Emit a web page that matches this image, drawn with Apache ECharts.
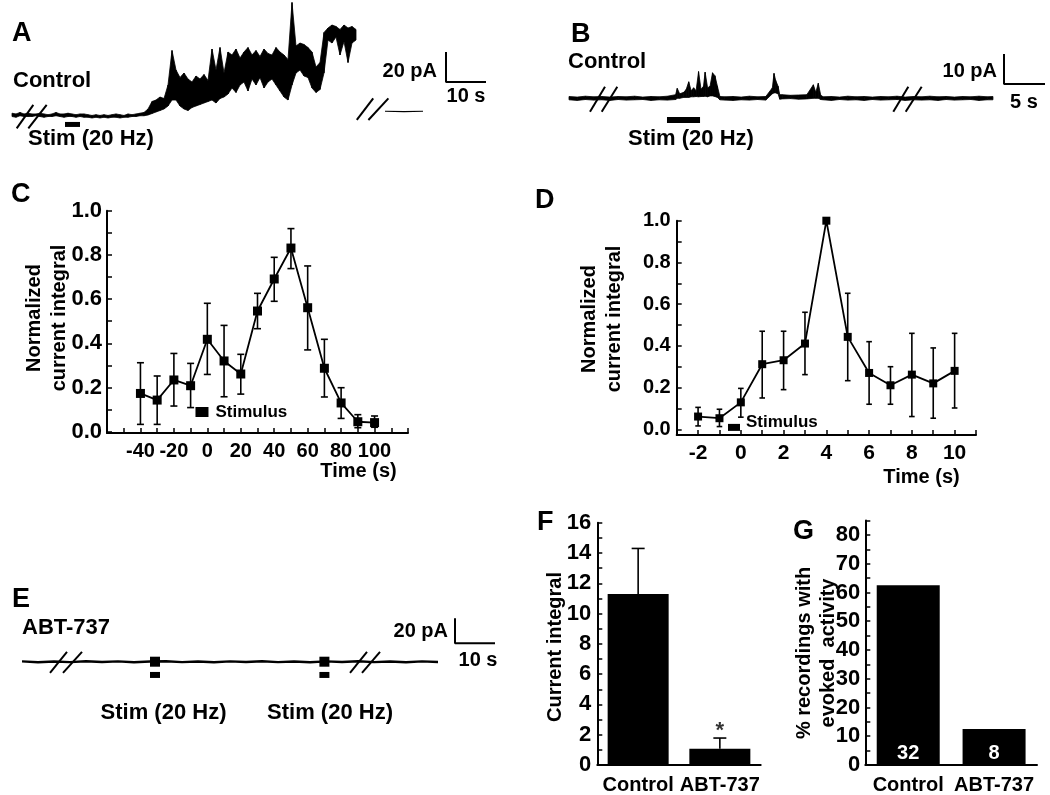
<!DOCTYPE html>
<html>
<head>
<meta charset="utf-8">
<script src="https://cdn.jsdelivr.net/npm/echarts@6/dist/echarts.min.js"></script>
<style>
html, body { margin: 0; padding: 0; background: #fff; }
#main { width: 1050px; height: 795px; }
</style>
</head>
<body>
<div id="main"></div>
<script>
// ---- panel A: control trace (time in s, current in pA), upper/lower envelope of the noise
var aTime = [];
for (var t = 0; t <= 86; t++) aTime.push(t);
var aHigh = [1.2,0.7,1.7,0.7,1.2,0.7,0.7,1.2,0.7,0.2, 0.7,1.7,0.7,0.7,1.2,0.7,0.2,0.7,0.7,0.2, -0.3,0.2,-0.3,0.2,-0.3,0.2,0.7,0.2,-0.3,0.7, 0.2,0.7,1.2,1.7,
  4,9,10,12,11, 20, 43, 30,25,28,24,22,26,24,27,23, 44,30,45,28,42,
  40,44,38,42,45,40,43,39,44,41,40,45,42, 40,37, 75, 46,48,47,45, 42,32,35, 55,
  58,60,59,57,60,58,59,57];
var aLow = [-1,-1.5,-0.5,-1,-1,-1,-0.5,-1,-1.5,-1, -1,-0.5,-1,-1.5,-1,-1,-1.5,-1,-1.5,-1.5, -2,-1.5,-2,-1.5,-2,-1.5,-1.5,-2,-1.5,-1.5, -1,-1,-0.5,-0.5,
  0,1,2,3,4, 6, 10, 10,6,4,3,5,6,7,8,9, 10,8,11,12,14,
  18,15,20,22,16,24,20,25,18,22,24,20,16, 12,10, 20, 28,30,26,25, 18,15,17, 28,
  50,48,52,40,49,35,48,50];
var aAfterTime = [93.25, 98, 102.75];
var aAfterVal = [2.5, 2.2, 2.5];
var aStim = [13.25, 17];

// ---- panel B: control trace
var bTime = [0,1,2,3,4,5,6,7,8,9,10,11,12,
  13,13.2,13.5,14,14.3,14.6,14.9,15.2,15.5,15.8,16.1,16.4,16.6,16.9,17.2,17.5,17.8,18.1,18.4,
  19,20,21,22,23,24, 24.8,25,25.2,25.5,25.7, 26,27,28,29, 29.8,30.1,30.4,30.7,
  31,32,33,34,35,36,37,38,39,40,41,42,43,44,45,46,47,48,49,50,51, 51.7];
var bHigh = [0.6,0.4,0.7,0.5,0.6,0.4,0.6,0.5,0.7,0.4,0.6,0.5,0.7,
  1.2,3.3,1.5,2.0,3.0,5.5,2.5,3.5,2.5,8.9,3.0,4.0,8.7,3.5,4.0,8.5,7.5,4.0,0.6,
  0.5,0.6,0.4,0.7,0.5,0.6, 3.5,8.3,6.0,4.0,1.2, 1.2,1.0,1.1,1.2, 4.5,2.0,5.0,1.0,
  0.5,0.6,0.4,0.7,0.5,0.6,0.4,0.6,0.5,0.7,0.4,0.6,0.5,0.7,0.5,0.6,0.4,0.6,0.5,0.7,0.5, 0.6];
var bLow = [-0.5,-0.7,-0.4,-0.6,-0.5,-0.7,-0.4,-0.6,-0.5,-0.4,-0.7,-0.5,-0.6,
  -0.4,0,0,0.3,0.3,0.3,0.5,0.5,0.6,0.5,0.6,0.6,0.7,0.5,0.8,0.8,0.6,0.3,-0.5,
  -0.6,-0.7,-0.5,-0.6,-0.4,-0.6, 1.5,1.8,1.8,1.5,-0.3, -0.2,-0.1,-0.3,-0.2, 0,0,0,-0.4,
  -0.5,-0.7,-0.4,-0.6,-0.5,-0.7,-0.4,-0.6,-0.5,-0.4,-0.7,-0.5,-0.6,-0.5,-0.7,-0.4,-0.6,-0.5,-0.4,-0.7,-0.5, -0.5];
var bStim = [11.95, 15.98];

// ---- panel C: normalized current integral, 10 s bins
var cTime = [-40,-30,-20,-10,0,10,20,30,40,50,60,70,80,90,100];
var cMean = [0.173,0.143,0.234,0.208,0.418,0.320,0.261,0.546,0.691,0.831,0.561,0.287,0.130,0.045,0.041];
var cLow  = [0.033,0.033,0.116,0.109,0.259,0.158,0.170,0.466,0.590,0.738,0.370,0.157,0.060,0.018,0.020];
var cHigh = [0.312,0.252,0.354,0.309,0.581,0.481,0.350,0.626,0.789,0.919,0.750,0.418,0.199,0.077,0.071];
var cStimulus = [-3.2, 0.089];

// ---- panel D: normalized current integral, 1 s bins
var dTime = [-2,-1,0,1,2,3,4,5,6,7,8,9,10];
var dMean = [0.061,0.053,0.129,0.312,0.331,0.411,1.0,0.443,0.270,0.211,0.262,0.220,0.280];
var dLow  = [0.016,0.013,0.058,0.150,0.190,0.262,1.0,0.233,0.120,0.120,0.061,0.053,0.102];
var dHigh = [0.105,0.096,0.196,0.470,0.470,0.561,1.0,0.652,0.420,0.300,0.460,0.390,0.460];
var dStimulus = [-0.32, 0.009];

// ---- panel E: ABT-737 trace
var eTime = [0,4,8,12,16,20,24,28,32,36,40,44,48,52,56,60,64,68,72,76,80,84,88,92,96,100,104];
var eVal = [0.3,-0.4,0.2,-0.3,0.4,-0.2,0.3,-0.4,0.2,0.4,-0.3,0.2,-0.4,0.3,-0.2,0.4,-0.3,0.2,-0.4,0.3,-0.2,0.4,-0.3,0.2,-0.4,0.3,-0.2];
var eStim = [33.25, 75.6];

// ---- panels F and G
var groups = ['Control', 'ABT-737'];
var fMean = [11.3, 1.07];
var fErr = [14.3, 1.78];
var gPercent = [62.5, 12.5];
var gN = [32, 8];

var FONT = '"Liberation Sans", Arial, Helvetica, sans-serif';

function range(a, b, step) {
    var out = [];
    for (var v = a; v <= b + 1e-9; v += step) out.push(Math.round(v * 1000) / 1000);
    return out;
}
function zip(xs, ys) {
    return xs.map(function (x, i) { return [x, ys[i]]; });
}

// noisy recording drawn as a filled envelope, one quad per sample step
function traceBand(gi, times, low, high) {
    var quads = [];
    for (var i = 0; i < times.length - 1; i++) {
        quads.push([times[i], low[i], high[i], times[i + 1], low[i + 1], high[i + 1]]);
    }
    return {
        type: 'custom', xAxisIndex: gi, yAxisIndex: gi, data: quads, clip: false, z: 2,
        renderItem: function (params, api) {
            var p1 = api.coord([api.value(0), api.value(2)]);
            var p2 = api.coord([api.value(3), api.value(5)]);
            var p3 = api.coord([api.value(3), api.value(4)]);
            var p4 = api.coord([api.value(0), api.value(1)]);
            return { type: 'polygon', shape: { points: [p1, p2, p3, p4] },
                     style: { fill: '#000', stroke: '#000', lineWidth: 0.8 } };
        }
    };
}
function segment(gi, pts, width) {
    return {
        type: 'line', xAxisIndex: gi, yAxisIndex: gi, data: pts, symbol: 'none',
        lineStyle: { color: '#000', width: width || 2, cap: 'butt' }, z: 5
    };
}
// break marks "//" drawn in data units of the trace
function breaks(gi, spans, yLo, yHi) {
    return spans.map(function (s) { return segment(gi, [[s[0], yLo], [s[1], yHi]], 2); });
}

function errorBars(gi, data, halfCap, upOnly) {
    return {
        type: 'custom', xAxisIndex: gi, yAxisIndex: gi, data: data, clip: false, z: 3,
        renderItem: function (params, api) {
            var top = api.coord([api.value(0), api.value(2)]);
            var bot = api.coord([api.value(0), api.value(1)]);
            var st = { stroke: '#000', lineWidth: 1.6 };
            var kids = [
                { type: 'line', shape: { x1: top[0], y1: top[1], x2: bot[0], y2: bot[1] }, style: st },
                { type: 'line', shape: { x1: top[0] - halfCap, y1: top[1], x2: top[0] + halfCap, y2: top[1] }, style: st }
            ];
            if (!upOnly) kids.push({ type: 'line', shape: { x1: bot[0] - halfCap, y1: bot[1], x2: bot[0] + halfCap, y2: bot[1] }, style: st });
            return { type: 'group', children: kids };
        }
    };
}

var axisLine = { show: true, onZero: false, lineStyle: { color: '#000', width: 2 } };
var tickLabel = { color: '#000', fontFamily: FONT, fontWeight: 'bold', fontSize: 22 };
function valueAxis(gi, min, max, ticks, labels, margin, fmt, size) {
    return {
        type: 'value', gridIndex: gi, min: min, max: max,
        axisLine: axisLine,
        axisTick: { show: true, inside: true, length: 5, customValues: ticks, lineStyle: { color: '#000', width: 1.5 } },
        axisLabel: Object.assign({}, tickLabel, { customValues: labels, margin: margin, formatter: fmt, fontSize: size || 22 }),
        splitLine: { show: false }
    };
}
function hiddenAxis(gi, min, max) {
    return { type: 'value', gridIndex: gi, min: min, max: max, show: false, splitLine: { show: false } };
}
function catAxis(gi) {
    return { type: 'category', gridIndex: gi, data: groups, axisLine: axisLine, axisTick: { show: false },
             axisLabel: Object.assign({}, tickLabel, { margin: 10, fontSize: 20, interval: 0 }) };
}
function oneDecimal(v) { return v.toFixed(1); }
function plain(v) { return String(v); }

var grids = [
    { left: 12, top: 2.5, width: 488, height: 150 },        // A
    { left: 569, top: 38.3, width: 479.7, height: 90 },     // B
    { left: 107, top: 210.7, width: 301, height: 222.3 },   // C
    { left: 676.7, top: 220.7, width: 299.3, height: 214.2 }, // D
    { left: 22, top: 611.7, width: 480, height: 75 },       // E
    { left: 597.3, top: 522.7, width: 163.4, height: 243 }, // F
    { left: 865.3, top: 520.6, width: 171.7, height: 244.4 } // G
];

var xAxes = [
    hiddenAxis(0, 0, 122),
    hiddenAxis(1, 0, 58.5),
    valueAxis(2, -60, 120, range(-60, 120, 10), range(-40, 100, 20), 8, plain, 20),
    valueAxis(3, -3, 11, range(-3, 11, 1), range(-2, 10, 2), 8, plain, 21),
    hiddenAxis(4, 0, 120),
    catAxis(5),
    catAxis(6)
];
var yAxes = [
    hiddenAxis(0, -25, 75),
    hiddenAxis(1, -10, 20),
    valueAxis(2, -0.006, 1, range(0, 1, 0.1), range(0, 1, 0.2), 5, oneDecimal),
    valueAxis(3, -0.027, 1, range(0, 1, 0.1), range(0, 1, 0.2), 6, oneDecimal, 20),
    hiddenAxis(4, -20, 40),
    valueAxis(5, 0, 16, range(0, 16, 1), range(0, 16, 2), 6, plain),
    valueAxis(6, 0, 85, range(0, 85, 5), range(0, 80, 10), 5, plain)
];

var solid = { color: '#000', opacity: 1 };
var series = [];
// A
series.push(traceBand(0, aTime, aLow, aHigh));
series.push(segment(0, zip(aAfterTime, aAfterVal), 1.2));
series = series.concat(breaks(0, [[1.17, 5.33], [4.08, 8.67]], -8.9, 6.7));
series = series.concat(breaks(0, [[86.2, 90.3], [89.1, 94.1]], -3.3, 11.1));
series.push(segment(0, [[aStim[0], -6.3], [aStim[1], -6.3]], 5));
series.push(segment(0, [[108.5, 42], [108.5, 22], [118.5, 22]], 2));
// B
series.push(traceBand(1, bTime, bLow, bHigh));
series = series.concat(breaks(1, [[2.56, 4.39], [3.99, 5.89], [39.55, 41.38], [41.06, 43.01]], -4.47, 3.87));
series.push(segment(1, [[bStim[0], -7.2], [bStim[1], -7.2]], 6));
series.push(segment(1, [[53.05, 14.77], [53.05, 4.77], [58.05, 4.77]], 2));
// C
series.push(errorBars(2, cTime.map(function (t, i) { return [t, cLow[i], cHigh[i]]; }), 3.5, false));
series.push({
    type: 'line', xAxisIndex: 2, yAxisIndex: 2, data: zip(cTime, cMean),
    symbol: 'rect', symbolSize: 9, itemStyle: solid, lineStyle: { color: '#000', width: 1.8 }, z: 4
});
series.push({
    type: 'scatter', xAxisIndex: 2, yAxisIndex: 2, data: [cStimulus], symbol: 'rect', symbolSize: [13, 10],
    itemStyle: solid,
    label: { show: true, position: 'right', distance: 7, formatter: 'Stimulus', color: '#000',
             fontFamily: FONT, fontWeight: 'bold', fontSize: 17 }
});
// D
series.push(errorBars(3, dTime.map(function (t, i) { return [t, dLow[i], dHigh[i]]; })
    .filter(function (d) { return d[1] !== d[2]; }), 2.8, false));
series.push({
    type: 'line', xAxisIndex: 3, yAxisIndex: 3, data: zip(dTime, dMean),
    symbol: 'rect', symbolSize: 8, itemStyle: solid, lineStyle: { color: '#000', width: 1.8 }, z: 4
});
series.push({
    type: 'scatter', xAxisIndex: 3, yAxisIndex: 3, data: [dStimulus], symbol: 'rect', symbolSize: [12, 7],
    itemStyle: solid,
    label: { show: true, position: 'right', distance: 6, offset: [0, -5], formatter: 'Stimulus', color: '#000',
             fontFamily: FONT, fontWeight: 'bold', fontSize: 17 }
});
// E
series.push(segment(4, zip(eTime, eVal), 2.4));
series = series.concat(breaks(4, [[7, 11.25], [10.25, 15], [82, 86.25], [85, 89.5]], -9, 7.8));
series.push({
    type: 'scatter', xAxisIndex: 4, yAxisIndex: 4, symbol: 'rect', symbolSize: [10, 10],
    data: eStim.map(function (t) { return [t, 0]; }), itemStyle: solid, z: 6
});
series.push({
    type: 'scatter', xAxisIndex: 4, yAxisIndex: 4, symbol: 'rect', symbolSize: [10, 6],
    data: eStim.map(function (t) { return [t, -10.6]; }), itemStyle: solid
});
series.push(segment(4, [[108.25, 34.7], [108.25, 14.7], [118.25, 14.7]], 2));
// F
series.push({
    type: 'bar', xAxisIndex: 5, yAxisIndex: 5, data: fMean, barWidth: 61, itemStyle: solid
});
series.push(errorBars(5, fMean.map(function (m, i) { return [i, m, fErr[i]]; }), 6.5, true));
series.push({
    type: 'scatter', xAxisIndex: 5, yAxisIndex: 5, data: [[1, fErr[1]]], symbolSize: 0,
    label: { show: true, position: 'top', distance: -4, formatter: '*', color: '#000',
             fontFamily: FONT, fontWeight: 'bold', fontSize: 22 }
});
// G
series.push({
    type: 'bar', xAxisIndex: 6, yAxisIndex: 6, data: gPercent, barWidth: 63, itemStyle: solid,
    label: { show: true, position: 'insideBottom', distance: 2, color: '#fff',
             fontFamily: FONT, fontWeight: 'bold', fontSize: 20,
             formatter: function (p) { return gN[p.dataIndex]; } }
});

function txt(s, x, y, size, opts) {
    opts = opts || {};
    return {
        type: 'text', x: x, y: y, rotation: opts.rot || 0, z: 10,
        style: { text: s, fill: '#000', font: 'bold ' + size + 'px ' + FONT,
                 align: opts.align || 'left', verticalAlign: 'middle', lineHeight: opts.lh || size * 1.2 }
    };
}
var V = Math.PI / 2;
var graphics = [
    txt('A', 12, 33.5, 27), txt('B', 571, 35, 27), txt('C', 11, 195, 27), txt('D', 535, 201, 27),
    txt('E', 12, 600, 27), txt('F', 537, 523, 27), txt('G', 793, 532, 27),
    txt('Control', 13, 81, 22), txt('Stim (20 Hz)', 28, 139, 22),
    txt('20 pA', 437, 71.5, 20, { align: 'right' }), txt('10 s', 466, 96.5, 20, { align: 'center' }),
    txt('Control', 568, 62, 22), txt('Stim (20 Hz)', 628, 139, 22),
    txt('10 pA', 997, 71.5, 20, { align: 'right' }), txt('5 s', 1024, 102.5, 20, { align: 'center' }),
    txt('Normalized\ncurrent integral', 47, 318, 20, { align: 'center', rot: V, lh: 24.5 }),
    txt('Time (s)', 358.5, 471.5, 20, { align: 'center' }),
    txt('Normalized\ncurrent integral', 602, 319, 20, { align: 'center', rot: V, lh: 24.5 }),
    txt('Time (s)', 921.5, 477.5, 20, { align: 'center' }),
    txt('ABT-737', 22, 627.5, 22),
    txt('Stim (20 Hz)', 163.5, 713, 22, { align: 'center' }), txt('Stim (20 Hz)', 330, 713, 22, { align: 'center' }),
    txt('20 pA', 448, 631.5, 20, { align: 'right' }), txt('10 s', 478, 660, 20, { align: 'center' }),
    txt('Current integral', 555.5, 647, 20, { align: 'center', rot: V }),
    txt('% recordings with\nevoked  activity', 816, 653, 20, { align: 'center', rot: V, lh: 24 })
];

var chart = echarts.init(document.getElementById('main'), null, { renderer: 'canvas' });
chart.setOption({
    animation: false,
    backgroundColor: '#fff',
    grid: grids,
    xAxis: xAxes,
    yAxis: yAxes,
    series: series,
    graphic: graphics
});
</script>
</body>
</html>
